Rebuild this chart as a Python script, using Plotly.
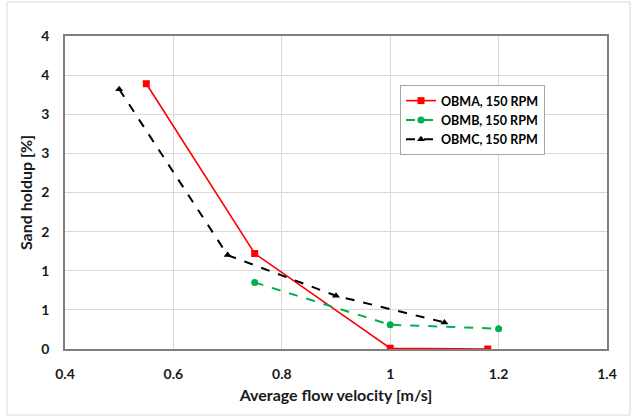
import plotly.graph_objects as go

# Data
obma_x = [0.55, 0.75, 1.0, 1.18]
obma_y = [3.39, 1.22, 0.01, 0.0]

obmb_x = [0.75, 1.0, 1.2]
obmb_y = [0.85, 0.31, 0.26]

obmc_x = [0.5, 0.7, 0.9, 1.1]
obmc_y = [3.32, 1.20, 0.68, 0.34]

y_tickvals = [0, 0.5, 1, 1.5, 2, 2.5, 3, 3.5, 4]
y_ticktext = ["0", "1", "1", "2", "2", "3", "3", "4", "4"]
x_tickvals = [0.4, 0.6, 0.8, 1.0, 1.2, 1.4]
x_ticktext = ["0.4", "0.6", "0.8", "1", "1.2", "1.4"]

FONT = "Lato"

fig = go.Figure()
fig.add_trace(go.Scatter(
    x=obma_x, y=obma_y, mode="lines+markers", name="OBMA, 150 RPM",
    line=dict(color="#ff0000", width=1.6),
    marker=dict(symbol="square", size=7, color="#ff0000")))
fig.add_trace(go.Scatter(
    x=obmb_x, y=obmb_y, mode="lines+markers", name="OBMB, 150 RPM",
    line=dict(color="#00b050", width=2, dash="dash"),
    marker=dict(symbol="circle", size=7, color="#00b050")))
fig.add_trace(go.Scatter(
    x=obmc_x, y=obmc_y, mode="lines+markers", name="OBMC, 150 RPM",
    line=dict(color="#000000", width=2, dash="dash"),
    marker=dict(symbol="triangle-up", size=7, color="#000000")))

W, H = 633, 417
L, R, T, B = 65, 26, 36, 68
pw, ph = W - L - R, H - T - B

def px_x(p):
    return (p - L) / pw

def px_y(p):
    return (H - B - p) / ph

fig.update_layout(
    width=W, height=H,
    margin=dict(l=L, r=R, t=T, b=B),
    paper_bgcolor="white", plot_bgcolor="white",
    font=dict(family=FONT, color="#1a1a1a"),
    showlegend=True,
    legend=dict(
        x=px_x(400), y=px_y(85), xanchor="left", yanchor="top",
        bgcolor="white", bordercolor="#a6a6a6", borderwidth=1,
        font=dict(family=FONT, size=12.5, color="#000000", weight="bold"),
        tracegroupgap=2, itemwidth=30),
    xaxis=dict(
        range=[0.4, 1.4], tickvals=x_tickvals, ticktext=x_ticktext,
        showgrid=True, gridcolor="#d9d9d9", gridwidth=1,
        showline=True, linecolor="#7f7f7f", linewidth=1.5, mirror=True,
        ticks="", zeroline=False, ticklabelstandoff=11,
        tickfont=dict(family=FONT, size=14, color="#1a1a1a", weight="bold"),
        title=dict(text="Average flow velocity [m/s]", standoff=9,
                   font=dict(family=FONT, size=16, color="#1a1a1a", weight="bold"))),
    yaxis=dict(
        range=[0, 4], tickvals=y_tickvals, ticktext=y_ticktext,
        showgrid=True, gridcolor="#d9d9d9", gridwidth=1,
        showline=True, linecolor="#7f7f7f", linewidth=1.5, mirror=True,
        ticks="", zeroline=False, ticklabelstandoff=11,
        tickfont=dict(family=FONT, size=14, color="#1a1a1a", weight="bold"),
        title=dict(text="Sand holdup [%]", standoff=5,
                   font=dict(family=FONT, size=16, color="#1a1a1a", weight="bold"))),
    shapes=[dict(type="rect", xref="paper", yref="paper",
                 x0=px_x(7), x1=px_x(630), y0=px_y(415), y1=px_y(2),
                 line=dict(color="#d9d9d9", width=1), fillcolor="rgba(0,0,0,0)",
                 layer="below")],
)

fig.write_html("out.html")
